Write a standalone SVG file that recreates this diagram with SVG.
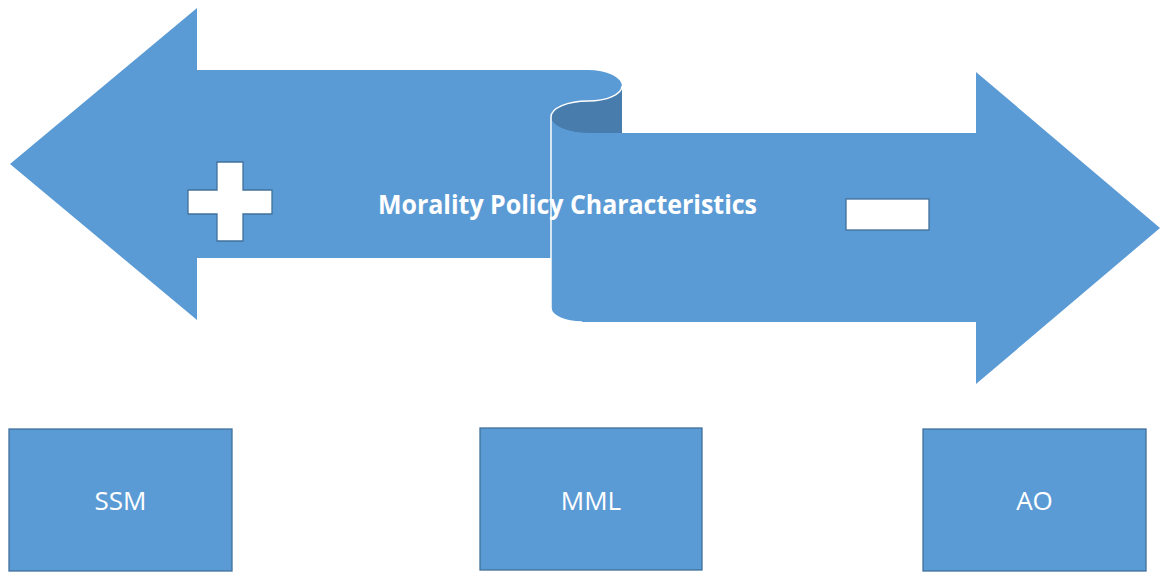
<svg xmlns="http://www.w3.org/2000/svg" width="1162" height="572" viewBox="0 0 1162 572">
<style>
.fill{fill:#5B9BD5;}
.box{fill:#5B9BD5;stroke:#41719C;stroke-width:1.3;}
.sign{fill:#FFFFFF;stroke:#41719C;stroke-width:1.3;}
.lbl{fill:#FFFFFF;font-family:"Open Sans","Liberation Sans",sans-serif;font-size:26px;text-anchor:middle;}
.title{fill:#FFFFFF;font-family:"Open Sans","Liberation Sans",sans-serif;font-size:27.5px;font-weight:bold;}
</style>
<rect width="1162" height="572" fill="#FFFFFF"/>
<g id="ribbon">
<path class="fill" d="M10,164 L197,8 L197,70 L588,70 A34,16 0 0 1 622,86 L622,133 L551,133 L551,258 L197,258 L197,320 Z"/>
<path fill="#477CAC" d="M622,86 A34,15 0 0 1 588,101 A37,16 0 0 0 551,117 A37,16 0 0 0 588,133 L622,133 Z"/>
<path class="fill" d="M551,117 A37,16 0 0 0 588,133 L976,133 L976,72 L1160,228 L976,384 L976,322 L582,322 A31,14 0 0 1 551,308 Z"/>
<text class="title" x="378" y="214" textLength="379" lengthAdjust="spacingAndGlyphs">Morality Policy Characteristics</text>
<path d="M622,86 A34,15 0 0 1 588,101 A37,16 0 0 0 551,117 L551,308 A31,14 0 0 0 582,322" fill="none" stroke="#FFFFFF" stroke-width="1.5"/>
</g>
<g id="plus">
<path class="sign" d="M217,162 L243,162 L243,190 L272,190 L272,214 L243,214 L243,241 L217,241 L217,214 L188,214 L188,190 L217,190 Z"/>
</g>
<g id="minus">
<rect class="sign" x="846" y="199" width="83" height="31"/>
</g>
<g id="ssm">
<rect class="box" x="9" y="429" width="223" height="142"/>
<text class="lbl" x="120.5" y="510">SSM</text>
</g>
<g id="mml">
<rect class="box" x="480" y="428" width="222" height="142"/>
<text class="lbl" x="591" y="510">MML</text>
</g>
<g id="ao">
<rect class="box" x="923" y="429" width="223" height="142"/>
<text class="lbl" x="1034.5" y="510">AO</text>
</g>
<g id="connectors"></g>
</svg>
